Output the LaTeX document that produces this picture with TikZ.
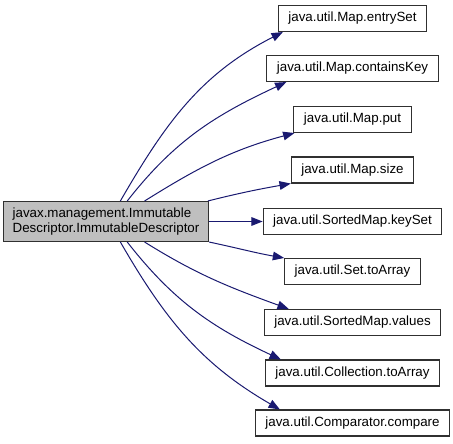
\documentclass[tikz,border=0pt]{standalone}
\usepackage{fontspec}
\setmainfont{Liberation Sans}
\usetikzlibrary{arrows.meta}
\definecolor{edgeblue}{HTML}{191970}
\definecolor{srcfill}{HTML}{BFBFBF}
\definecolor{boxline}{HTML}{303030}
\begin{document}
\begin{tikzpicture}[x=0.75pt,y=-0.75pt,
  box/.style={draw=boxline,line width=0.8pt,inner xsep=7.5pt,inner ysep=0pt,
    minimum height=19.5pt,font=\fontsize{10}{11.5}\selectfont},
  srcbox/.style={box,fill=srcfill,minimum height=30pt,align=left,inner xsep=7pt},
  edge/.style={draw=edgeblue,line width=0.75pt,-{Triangle[length=8.5pt,width=6.5pt]}}]
\useasboundingbox (0,0) rectangle (453,443);
\node[srcbox] (src) at (106,221.5) {javax.management.Immutable\\Descriptor.ImmutableDescriptor};
\node[box] (e1) at (352.5,18.5) {java.util.Map.entrySet};
\node[box] (e2) at (352.5,68.5) {java.util.Map.containsKey};
\node[box] (e3) at (352.5,119.5) {java.util.Map.put};
\node[box] (e4) at (352.5,170) {java.util.Map.size};
\node[box] (e5) at (352.5,221.5) {java.util.SortedMap.keySet};
\node[box] (e6) at (352.5,271.5) {java.util.Set.toArray};
\node[box] (e7) at (352.5,322.5) {java.util.SortedMap.values};
\node[box] (e8) at (352.5,373) {java.util.Collection.toArray};
\node[box] (e9) at (352.5,423) {java.util.Comparator.compare};
\draw[edge] (src.55) to[out=60,in=207] ([xshift=3.75pt]e1.south west);
\draw[edge] (src.44) to[out=52,in=205] ([xshift=15pt]e2.south west);
\draw[edge] (src.28) to[out=32,in=195] ([xshift=0.75pt]e3.south west);
\draw[edge] ([xshift=-1pt]src.north east) to[out=14,in=190] (e4.south west);
\draw[edge] (src.east) -- (e5.west);
\draw[edge] (src.south east) to[out=-12,in=170] (e6.north west);
\draw[edge] (src.-28) to[out=-32,in=160] ([xshift=18.75pt]e7.north west);
\draw[edge] (src.-44) to[out=-52,in=155] ([xshift=12pt]e8.north west);
\draw[edge] (src.-55) to[out=-60,in=150] ([xshift=18.75pt]e9.north west);
\end{tikzpicture}
\end{document}
